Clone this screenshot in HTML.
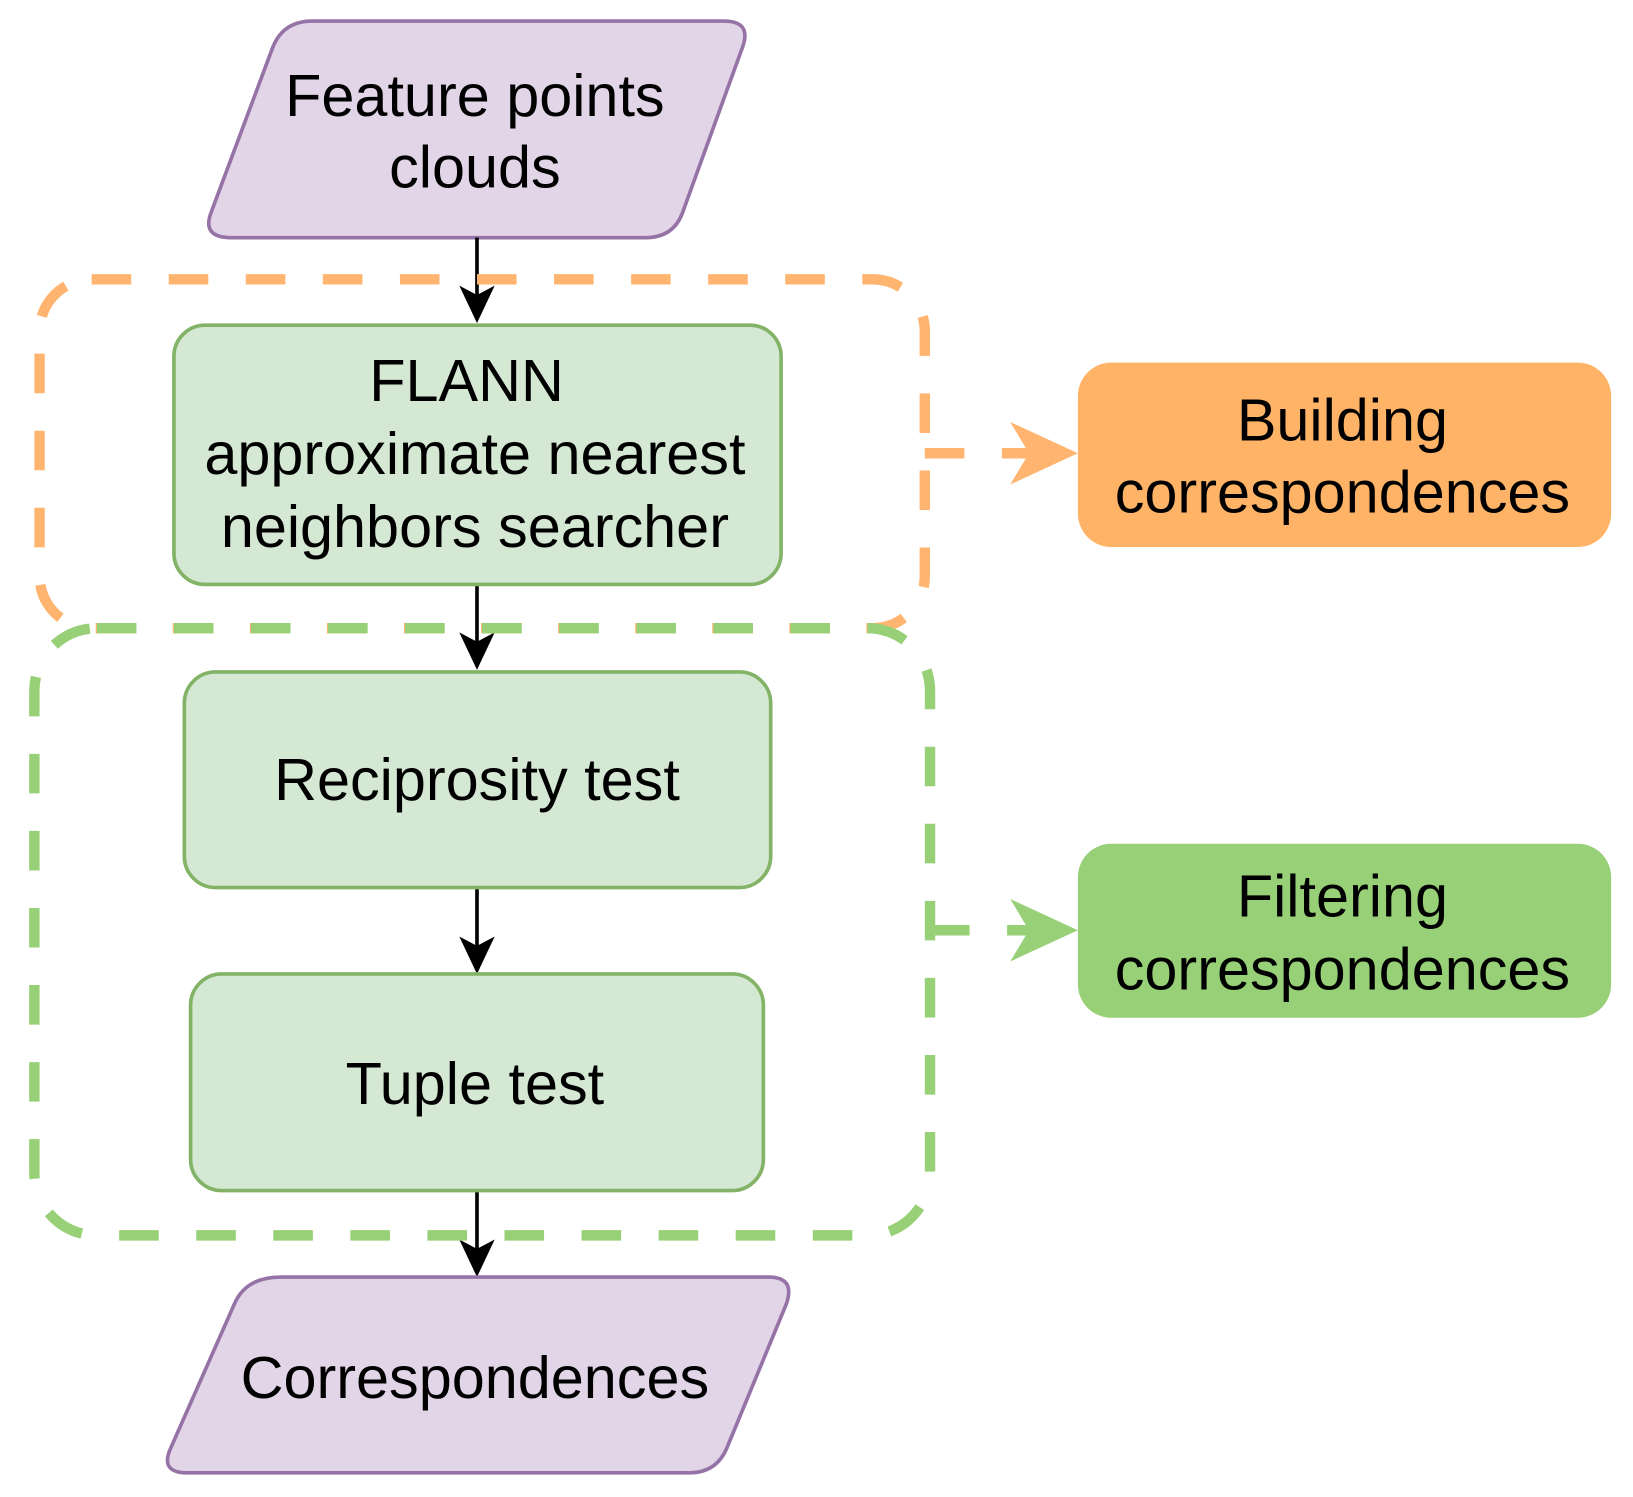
<!DOCTYPE html>
<html><head><style>html,body{margin:0;padding:0;background:#fff}</style></head>
<body>
<svg width="1633" height="1497" viewBox="0 0 1568 1437" xmlns="http://www.w3.org/2000/svg" style="display:block">
<g font-family="Liberation Sans, sans-serif" font-size="57" text-anchor="middle" fill="#000">
<path d="M300,20 L695,20 Q722,20 713,45 L655,205 Q646,228 620,228 L222,228 Q193,228 203,203 L262,45 Q272,20 300,20 Z" fill="#e1d5e7" stroke="#9673a6" stroke-width="3.5"/>
<text x="456" y="111">Feature points</text>
<text x="456" y="180">clouds</text>
<g stroke="#000" stroke-width="3.5">
<line x1="458" y1="228" x2="458" y2="290"/>
<line x1="458" y1="561" x2="458" y2="622"/>
<line x1="458" y1="852" x2="458" y2="914"/>
<line x1="458" y1="1143" x2="458" y2="1205"/>
</g>
<g fill="#000">
<path d="M441,274 L458,310 L475,274 L458,283 Z"/>
<path d="M441,607 L458,643 L475,607 L458,616 Z"/>
<path d="M441,899 L458,935 L475,899 L458,908 Z"/>
<path d="M441,1190 L458,1226 L475,1190 L458,1199 Z"/>
</g>
<rect x="38" y="268" width="850" height="335" rx="50" fill="none" stroke="#ffb570" stroke-width="10" stroke-dasharray="38 36"/>
<rect x="33" y="603" width="860" height="583" rx="60" fill="none" stroke="#97d077" stroke-width="10" stroke-dasharray="38 36"/>
<rect x="167" y="312" width="583" height="249" rx="30" fill="#d5e8d4" stroke="#82b366" stroke-width="3.5"/>
<text x="448" y="385">FLANN</text>
<text x="456" y="455">approximate nearest</text>
<text x="456" y="525">neighbors searcher</text>
<rect x="177" y="645" width="563" height="207" rx="30" fill="#d5e8d4" stroke="#82b366" stroke-width="3.5"/>
<text x="458" y="768">Reciprosity test</text>
<rect x="183" y="935" width="550" height="208" rx="30" fill="#d5e8d4" stroke="#82b366" stroke-width="3.5"/>
<text x="456" y="1060">Tuple test</text>
<path d="M270,1226 L738,1226 Q764,1226 755,1252 L698,1390 Q688,1414 662,1414 L180,1414 Q153,1414 164,1390 L225,1252 Q236,1226 270,1226 Z" fill="#e1d5e7" stroke="#9673a6" stroke-width="3.5"/>
<text x="456" y="1342">Correspondences</text>
<rect x="1035" y="348" width="512" height="177" rx="32" fill="#ffb366"/>
<text x="1289" y="423">Building</text>
<text x="1289" y="492">correspondences</text>
<rect x="1035" y="810" width="512" height="167" rx="32" fill="#97d077"/>
<text x="1289" y="880">Filtering</text>
<text x="1289" y="950">correspondences</text>
<line x1="888" y1="435" x2="1005" y2="435" stroke="#ffb570" stroke-width="10" stroke-dasharray="38 36"/>
<path d="M970,405 L1035,435 L970,465 L988,435 Z" fill="#ffb570"/>
<line x1="893" y1="893" x2="1005" y2="893" stroke="#97d077" stroke-width="10" stroke-dasharray="38 36"/>
<path d="M970,863 L1035,893 L970,923 L988,893 Z" fill="#97d077"/>
</g>
</svg>
</body></html>
